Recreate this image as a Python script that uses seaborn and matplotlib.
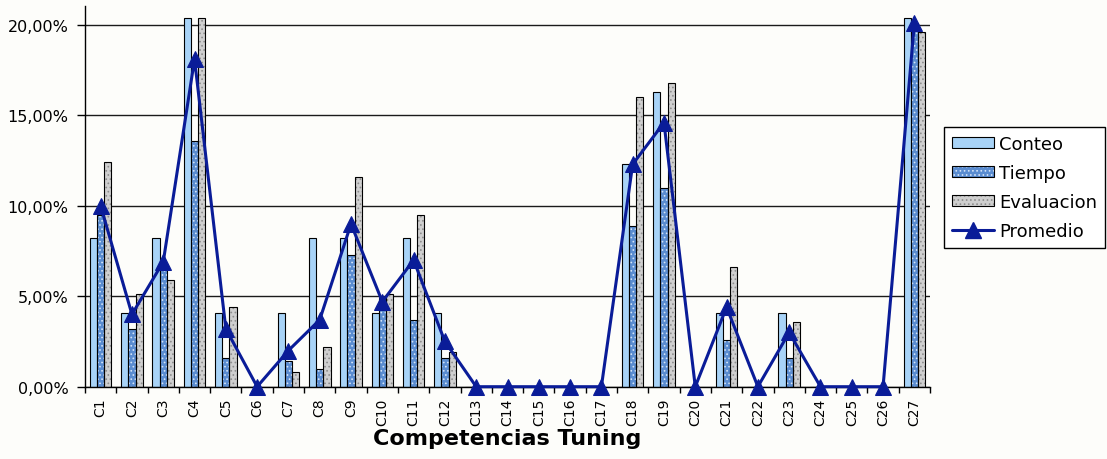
import numpy as np
import pandas as pd
import seaborn as sns
import matplotlib
matplotlib.use("Agg")
import matplotlib.pyplot as plt
from matplotlib.patches import Rectangle, Patch
from matplotlib.lines import Line2D
from matplotlib.ticker import FixedLocator, FuncFormatter

# ---- data (percent) ----
categories = [f"C{i}" for i in range(1, 28)]
conteo = [8.2, 4.1, 8.2, 20.4, 4.1, 0.0, 4.1, 8.2, 8.2, 4.1, 8.2, 4.1, 0.0, 0.0,
          0.0, 0.0, 0.0, 12.3, 16.3, 0.0, 4.1, 0.0, 4.1, 0.0, 0.0, 0.0, 20.4]
tiempo = [9.5, 3.2, 6.6, 13.6, 1.6, 0.0, 1.4, 1.0, 7.3, 4.9, 3.7, 1.6, 0.0, 0.0,
          0.0, 0.0, 0.0, 8.9, 11.0, 0.0, 2.6, 0.0, 1.6, 0.0, 0.0, 0.0, 20.1]
evaluacion = [12.4, 5.1, 5.9, 20.4, 4.4, 0.0, 0.8, 2.2, 11.6, 5.1, 9.5, 1.9, 0.0, 0.0,
              0.0, 0.0, 0.0, 16.0, 16.8, 0.0, 6.6, 0.0, 3.6, 0.0, 0.0, 0.0, 19.6]
promedio = [10.0, 4.0, 6.9, 18.1, 3.2, 0.0, 2.0, 3.7, 9.0, 4.7, 7.0, 2.5, 0.0, 0.0,
            0.0, 0.0, 0.0, 12.3, 14.6, 0.0, 4.4, 0.0, 3.0, 0.0, 0.0, 0.0, 20.1]
series_names = ["Conteo", "Tiempo", "Evaluacion"]
y_ticks = [0, 5, 10, 15, 20]

# ---- styles ----
BG = "#fdfdfa"
NAVY = "#0a1c98"
face = {"Conteo": "#a8d3f7", "Tiempo": "#5a8cd0", "Evaluacion": "#cfcfcf"}
hatch_style = {"Tiempo": ("....", "#d4e4f7"), "Evaluacion": ("....", "#8e8e8e")}

df = pd.DataFrame({"Competencia": categories, "Conteo": conteo,
                   "Tiempo": tiempo, "Evaluacion": evaluacion})
long = df.melt(id_vars="Competencia", var_name="Serie", value_name="Valor")

sns.set_theme(style="white")
plt.rcParams["font.family"] = ["DejaVu Sans"]
plt.rcParams["hatch.linewidth"] = 0.7
plt.rcParams["text.color"] = "black"
plt.rcParams["axes.labelcolor"] = "black"
plt.rcParams["xtick.color"] = "black"
plt.rcParams["ytick.color"] = "black"

fig = plt.figure(figsize=(11.07, 4.6), dpi=100, facecolor=BG)
ax = fig.add_axes([85 / 1107, 72.3 / 460, 845 / 1107, 380.7 / 460])
ax.set_facecolor(BG)

sns.barplot(data=long, x="Competencia", y="Valor", hue="Serie",
            hue_order=series_names, order=categories, palette=face,
            saturation=1, width=0.69, gap=0, errorbar=None,
            edgecolor="black", linewidth=0.8, legend=False, ax=ax, zorder=2)

# textured fills with a separate black outline on top
for cont, name in zip(ax.containers, series_names):
    if name not in hatch_style:
        continue
    hatch, hcol = hatch_style[name]
    for p in cont.patches:
        p.set_hatch(hatch)
        p.set_edgecolor(hcol)
        p.set_linewidth(0)
        if p.get_height() > 0:
            ax.add_patch(Rectangle(p.get_xy(), p.get_width(), p.get_height(),
                                   fill=False, edgecolor="black", lw=0.8, zorder=2.1))

# average line
sns.lineplot(x=np.arange(len(categories)), y=promedio, color=NAVY, lw=2.2,
             marker="^", markersize=12, markeredgecolor=NAVY, legend=False,
             ax=ax, zorder=4, clip_on=False)

# ---- axes ----
ax.set_xlim(-0.5, len(categories) - 0.5)
ax.set_ylim(0, 21.05)
ax.yaxis.set_major_locator(FixedLocator(y_ticks))
ax.yaxis.set_major_formatter(FuncFormatter(lambda v, _: f"{v:.2f}%".replace(".", ",")))
ax.yaxis.grid(True, color="#1a1a1a", lw=1.0, zorder=0)
ax.xaxis.grid(False)
ax.set_axisbelow(True)

ax.set_xticks(np.arange(len(categories)))
ax.set_xticklabels(categories, rotation=90)
ax.xaxis.set_minor_locator(FixedLocator(np.arange(-0.5, len(categories), 1)))
ax.tick_params(axis="x", which="major", length=0, pad=8, labelsize=10,
               colors="black", labelcolor="black")
ax.tick_params(axis="x", which="minor", length=4, width=1, direction="out",
               color="black", bottom=True)
ax.tick_params(axis="y", which="major", length=5.5, width=1, direction="out",
               pad=6.5, labelsize=11.5, colors="black", labelcolor="black", left=True)

for s in ["top", "right"]:
    ax.spines[s].set_visible(False)
for s in ["left", "bottom"]:
    ax.spines[s].set_color("black")
    ax.spines[s].set_linewidth(1.0)
    ax.spines[s].set_zorder(3)

ax.set_ylabel("")
ax.set_xlabel("Competencias Tuning", fontsize=16, fontweight="bold",
              labelpad=2, color="black")

# ---- legend ----
handles = [
    Patch(facecolor=face["Conteo"], edgecolor="black", lw=0.8),
    (Patch(facecolor=face["Tiempo"], hatch=hatch_style["Tiempo"][0],
           edgecolor=hatch_style["Tiempo"][1], lw=0),
     Patch(fill=False, edgecolor="black", lw=0.8)),
    (Patch(facecolor=face["Evaluacion"], hatch=hatch_style["Evaluacion"][0],
           edgecolor=hatch_style["Evaluacion"][1], lw=0),
     Patch(fill=False, edgecolor="black", lw=0.8)),
    Line2D([], [], color=NAVY, lw=2.2, marker="^", markersize=11),
]
labels = series_names + ["Promedio"]
leg = fig.legend(handles, labels, loc="center left",
                 bbox_to_anchor=(944 / 1107, 1 - 188.5 / 460),
                 frameon=True, fancybox=False, shadow=False, framealpha=1,
                 facecolor="white", edgecolor="black", fontsize=13,
                 handlelength=2.3, handleheight=0.55, handletextpad=0.3,
                 labelspacing=0.6, borderpad=0.45, borderaxespad=0)
leg.get_frame().set_linewidth(1.0)
for t in leg.get_texts():
    t.set_color("black")

fig.savefig("out.png", dpi=100, facecolor=BG)
